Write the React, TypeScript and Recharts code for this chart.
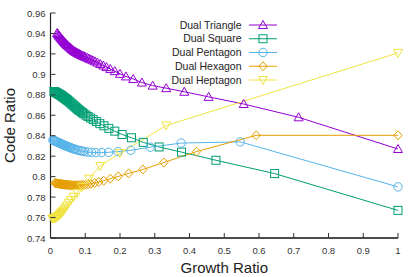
import { LineChart, Line, XAxis, YAxis, Legend } from 'recharts';

const xTicks = [0, 0.1, 0.2, 0.3, 0.4, 0.5, 0.6, 0.7, 0.8, 0.9, 1];
const yTicks = [0.74, 0.76, 0.78, 0.8, 0.82, 0.84, 0.86, 0.88, 0.9, 0.92, 0.94, 0.96];

// [growth ratio, code ratio]
const dualTriangle: [number, number][] = [
  [0.019, 0.9404], [0.021, 0.9395], [0.023, 0.9386], [0.025, 0.9377], [0.027, 0.9368],
  [0.029, 0.9359], [0.031, 0.9351], [0.033, 0.9343], [0.035, 0.9335], [0.037, 0.9327],
  [0.039, 0.9319], [0.041, 0.9311], [0.043, 0.9304], [0.045, 0.9297], [0.047, 0.929],
  [0.049, 0.9283], [0.052, 0.9274], [0.055, 0.9265], [0.058, 0.9256], [0.061, 0.9247],
  [0.064, 0.9239], [0.067, 0.9231], [0.07, 0.9224], [0.073, 0.9218], [0.076, 0.9212],
  [0.079, 0.9206], [0.082, 0.9201], [0.085, 0.9195], [0.089, 0.9188], [0.093, 0.9182],
  [0.097, 0.9176], [0.1, 0.9172], [0.106, 0.9162], [0.111, 0.9154], [0.116, 0.9146],
  [0.122, 0.9137], [0.128, 0.9127], [0.135, 0.9115], [0.143, 0.9101], [0.152, 0.9086],
  [0.161, 0.9071], [0.172, 0.9053], [0.185, 0.9031], [0.2, 0.9005], [0.217, 0.898],
  [0.238, 0.8955], [0.263, 0.892], [0.294, 0.889], [0.333, 0.8865], [0.385, 0.883],
  [0.455, 0.878], [0.556, 0.871], [0.714, 0.858], [1, 0.827],
];

const dualSquare: [number, number][] = [
  [0.01, 0.8832], [0.012, 0.8829], [0.014, 0.8826], [0.016, 0.8823], [0.018, 0.8819],
  [0.02, 0.8815], [0.022, 0.8811], [0.024, 0.8807], [0.026, 0.8803], [0.028, 0.8799],
  [0.03, 0.8795], [0.032, 0.879], [0.034, 0.8785], [0.036, 0.878], [0.038, 0.8775],
  [0.04, 0.877], [0.042, 0.8765], [0.044, 0.876], [0.046, 0.8755], [0.048, 0.875],
  [0.05, 0.8745], [0.053, 0.8736], [0.056, 0.8727], [0.059, 0.8718], [0.062, 0.8709],
  [0.065, 0.87], [0.068, 0.8691], [0.071, 0.8682], [0.074, 0.8673], [0.077, 0.8664],
  [0.08, 0.8655], [0.084, 0.8645], [0.088, 0.8635], [0.092, 0.8625], [0.096, 0.8615],
  [0.102, 0.8601], [0.108, 0.8588], [0.115, 0.8573], [0.123, 0.8557], [0.132, 0.8539],
  [0.142, 0.8518], [0.154, 0.8497], [0.168, 0.8472], [0.185, 0.8445], [0.206, 0.8412],
  [0.233, 0.838], [0.267, 0.8335], [0.3125, 0.829], [0.377, 0.824], [0.476, 0.816],
  [0.645, 0.803], [1, 0.767],
];

const dualPentagon: [number, number][] = [
  [0.007, 0.8356], [0.009, 0.8354], [0.011, 0.8351], [0.013, 0.8348], [0.015, 0.8345],
  [0.017, 0.8342], [0.019, 0.8339], [0.021, 0.8336], [0.023, 0.8333], [0.025, 0.833],
  [0.027, 0.8327], [0.029, 0.8324], [0.031, 0.832], [0.033, 0.8317], [0.035, 0.8314],
  [0.037, 0.8311], [0.039, 0.8308], [0.041, 0.8305], [0.043, 0.8302], [0.045, 0.83],
  [0.048, 0.8296], [0.051, 0.8292], [0.054, 0.8288], [0.057, 0.8284], [0.06, 0.828],
  [0.064, 0.8275], [0.068, 0.827], [0.072, 0.8266], [0.077, 0.8261], [0.082, 0.8256],
  [0.088, 0.8252], [0.093, 0.8248], [0.099, 0.8244], [0.108, 0.824], [0.118, 0.8237],
  [0.131, 0.8235], [0.147, 0.8235], [0.167, 0.8238], [0.194, 0.8245], [0.231, 0.8258],
  [0.287, 0.8288], [0.376, 0.8328], [0.546, 0.834], [1, 0.79],
];

const dualHexagon: [number, number][] = [
  [0.013, 0.7937], [0.015, 0.7936], [0.017, 0.7935], [0.019, 0.7933], [0.021, 0.7932],
  [0.023, 0.7931], [0.025, 0.793], [0.027, 0.7929], [0.029, 0.7928], [0.031, 0.7927],
  [0.033, 0.7926], [0.035, 0.7925], [0.037, 0.7924], [0.039, 0.7923], [0.041, 0.7922],
  [0.043, 0.7921], [0.045, 0.7921], [0.048, 0.792], [0.051, 0.7919], [0.054, 0.7918],
  [0.057, 0.7917], [0.06, 0.7916], [0.063, 0.7916], [0.0676, 0.7915], [0.0709, 0.7915],
  [0.0745, 0.7915], [0.0786, 0.7915], [0.083, 0.7916], [0.0881, 0.7917], [0.0938, 0.7919],
  [0.1, 0.7921], [0.108, 0.7925], [0.116, 0.793], [0.127, 0.7938], [0.139, 0.7948],
  [0.153, 0.796], [0.172, 0.798], [0.195, 0.8002], [0.225, 0.8032], [0.266, 0.807],
  [0.326, 0.8138], [0.42, 0.8245], [0.592, 0.8404], [1, 0.8404],
];

const dualHeptagon: [number, number][] = [
  [0.005, 0.759], [0.007, 0.759], [0.009, 0.7591], [0.011, 0.7593], [0.013, 0.7596],
  [0.015, 0.7599], [0.017, 0.7603], [0.019, 0.7607], [0.021, 0.7612], [0.023, 0.7617],
  [0.025, 0.7623], [0.027, 0.7629], [0.029, 0.7636], [0.031, 0.7643], [0.033, 0.765],
  [0.0345, 0.7656], [0.037, 0.7667], [0.04, 0.768], [0.0435, 0.7698], [0.0476, 0.7719],
  [0.0526, 0.7745], [0.0588, 0.7772], [0.0667, 0.7803], [0.0769, 0.7842], [0.0909, 0.79],
  [0.111, 0.798], [0.143, 0.8105], [0.2, 0.823], [0.333, 0.85], [1, 0.921],
];

const FONT = '"Liberation Sans", Arial, Helvetica, sans-serif';

const series = [
  { name: 'Dual Triangle', points: dualTriangle, color: '#9400d3', shape: 'triangle' },
  { name: 'Dual Square', points: dualSquare, color: '#009e73', shape: 'square' },
  { name: 'Dual Pentagon', points: dualPentagon, color: '#56b4e9', shape: 'circle' },
  { name: 'Dual Hexagon', points: dualHexagon, color: '#e69f00', shape: 'diamond' },
  { name: 'Dual Heptagon', points: dualHeptagon, color: '#f0e442', shape: 'itriangle' },
];

function Marker({ shape, cx, cy, color }: { shape: string; cx: number; cy: number; color: string }) {
  if (cx == null || cy == null) return null;
  const common = { fill: 'none', stroke: color, strokeWidth: 1 };
  switch (shape) {
    case 'triangle':
      return <polygon points={`${cx},${cy - 4.5} ${cx + 4.5},${cy + 3.5} ${cx - 4.5},${cy + 3.5}`} {...common} />;
    case 'square':
      return <rect x={cx - 4} y={cy - 4} width={8} height={8} {...common} />;
    case 'circle':
      return <circle cx={cx} cy={cy} r={4.2} {...common} />;
    case 'diamond':
      return <polygon points={`${cx},${cy - 4.5} ${cx + 4.2},${cy} ${cx},${cy + 4.5} ${cx - 4.2},${cy}`} {...common} />;
    default:
      return <polygon points={`${cx},${cy + 4.5} ${cx + 4.5},${cy - 3.5} ${cx - 4.5},${cy - 3.5}`} {...common} />;
  }
}

const fmt = (v: number) => String(v);

function BottomTick({ x, y, payload }: any) {
  return (
    <g>
      <line x1={x} y1={y} x2={x} y2={y - 5} stroke="#333" />
      <text x={x} y={y + 16} textAnchor="middle" fontSize={9.5} fill="#333" fontFamily={FONT}>
        {fmt(payload.value)}
      </text>
    </g>
  );
}

function LeftTick({ x, y, payload }: any) {
  return (
    <g>
      <line x1={x} y1={y} x2={x + 5} y2={y} stroke="#333" />
      <text x={x - 5} y={y + 3.5} textAnchor="end" fontSize={9.5} fill="#333" fontFamily={FONT}>
        {fmt(payload.value)}
      </text>
    </g>
  );
}

function TopTick({ x, y }: any) {
  return <line x1={x} y1={y} x2={x} y2={y + 5} stroke="#333" />;
}

function RightTick({ x, y }: any) {
  return <line x1={x} y1={y} x2={x - 5} y2={y} stroke="#333" />;
}

function KeyBox() {
  const rowH = 13.75;
  return (
    <svg width={135} height={75} style={{ display: 'block' }}>
      {series.map((s, i) => {
        const cy = 10 + i * rowH;
        return (
          <g key={s.name}>
            <text x={91.5} y={cy + 3.7} textAnchor="end" fontSize={10.5} fill="#222" fontFamily={FONT}>
              {s.name}
            </text>
            <line x1={99} y1={cy} x2={127} y2={cy} stroke={s.color} strokeWidth={1} />
            <Marker shape={s.shape} cx={113} cy={cy} color={s.color} />
          </g>
        );
      })}
    </svg>
  );
}

export default function App() {
  return (
    <div style={{ position: 'absolute', left: 0, top: 0 }}>
      <LineChart width={415} height={277} margin={{ top: 13, right: 17, bottom: 0, left: 0 }}>
        <XAxis
          dataKey="x"
          type="number"
          domain={[0, 1]}
          ticks={xTicks}
          interval={0}
          height={39}
          tickSize={0}
          tickMargin={0}
          tickLine={false}
          axisLine={{ stroke: '#111', strokeWidth: 1.5 }}
          tick={(p: any) => <BottomTick {...p} />}
          label={{
            value: 'Growth Ratio',
            content: (p: any) => (
              <text
                x={p.viewBox.x + p.viewBox.width / 2}
                y={273}
                textAnchor="middle"
                fontSize={15}
                fill="#222"
                fontFamily={FONT}
              >
                Growth Ratio
              </text>
            ),
          }}
        />
        <XAxis
          xAxisId="top"
          orientation="top"
          type="number"
          domain={[0, 1]}
          ticks={xTicks}
          interval={0}
          height={0}
          tickSize={0}
          tickMargin={0}
          tickLine={false}
          axisLine={{ stroke: '#777', strokeWidth: 1 }}
          tick={(p: any) => <TopTick {...p} />}
        />
        <YAxis
          type="number"
          domain={[0.74, 0.96]}
          ticks={yTicks}
          interval={0}
          width={50.5}
          tickSize={0}
          tickMargin={0}
          tickLine={false}
          axisLine={{ stroke: '#222', strokeWidth: 1.2 }}
          tick={(p: any) => <LeftTick {...p} />}
          label={{
            value: 'Code Ratio',
            content: (p: any) => {
              const cy = p.viewBox.y + p.viewBox.height / 2;
              return (
                <text
                  x={15}
                  y={cy}
                  transform={`rotate(-90, 15, ${cy})`}
                  textAnchor="middle"
                  fontSize={15}
                  fill="#222"
                  fontFamily={FONT}
                >
                  Code Ratio
                </text>
              );
            },
          }}
        />
        <YAxis
          yAxisId="right"
          orientation="right"
          type="number"
          domain={[0.74, 0.96]}
          ticks={yTicks}
          interval={0}
          width={0}
          tickSize={0}
          tickMargin={0}
          tickLine={false}
          axisLine={{ stroke: '#777', strokeWidth: 2 }}
          tick={(p: any) => <RightTick {...p} />}
        />
        <Legend
          layout="vertical"
          align="center"
          verticalAlign="middle"
          wrapperStyle={{ top: 15, left: 150, width: 135, height: 75 }}
          content={() => <KeyBox />}
        />
        {series.map((s) => (
          <Line
            key={s.name}
            name={s.name}
            data={s.points.map(([x, y]) => ({ x, y }))}
            dataKey="y"
            type="linear"
            stroke={s.color}
            strokeWidth={1}
            isAnimationActive={false}
            activeDot={false}
            dot={(p: any) => <Marker key={p.index} shape={s.shape} cx={p.cx} cy={p.cy} color={s.color} />}
          />
        ))}
      </LineChart>
    </div>
  );
}
